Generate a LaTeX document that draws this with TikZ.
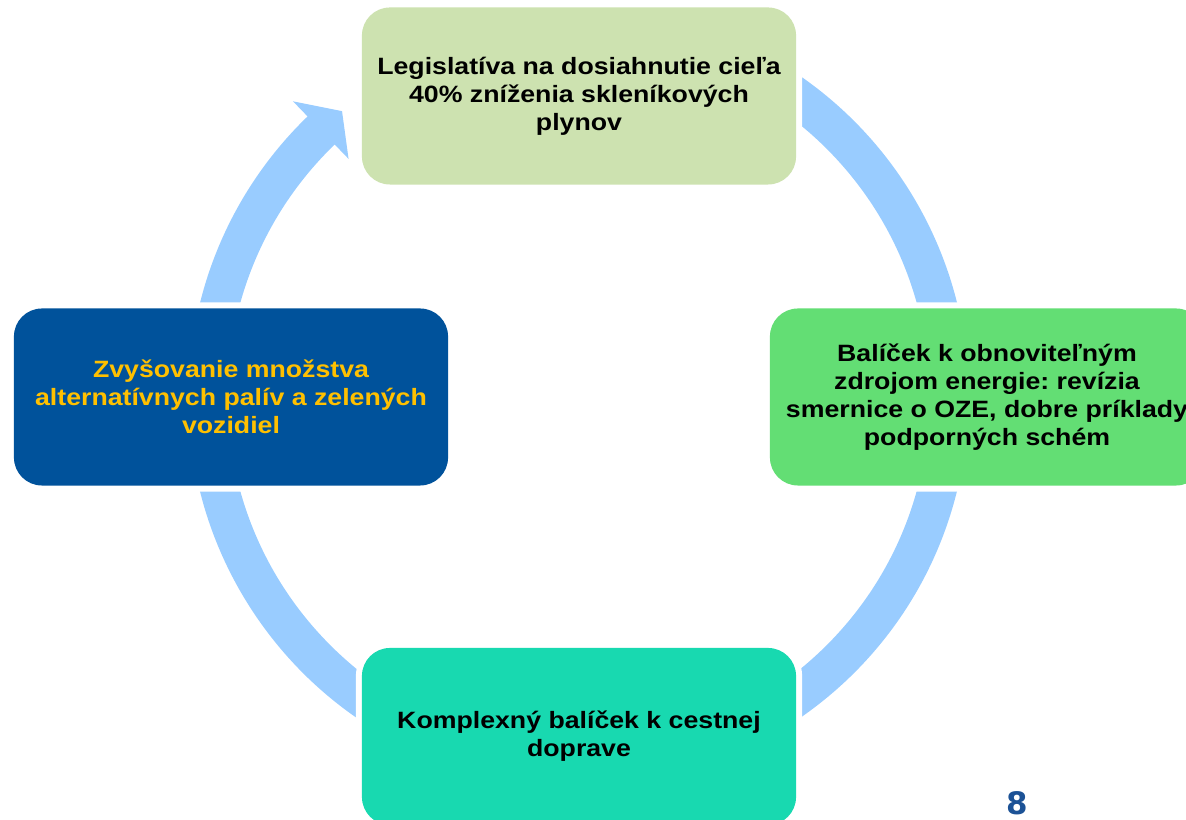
\documentclass[tikz,border=0pt]{standalone}
\usepackage{fontspec}
\setmainfont{Liberation Sans}[FakeStretch=1.13]
\newfontfamily\numfont{DejaVu Sans}
\usetikzlibrary{positioning}
\frenchspacing

\definecolor{ringblue}{RGB}{153,204,255}
\definecolor{legisgreen}{RGB}{205,226,176}
\definecolor{ozegreen}{RGB}{99,222,116}
\definecolor{cestateal}{RGB}{24,217,176}
\definecolor{euroblue}{RGB}{0,82,155}
\definecolor{euroyellow}{RGB}{255,192,0}
\definecolor{pagenum}{RGB}{28,82,150}

\tikzset{
  box/.style={rectangle, rounded corners=0.7cm, minimum width=10.85cm, minimum height=4.425cm,
    inner sep=0pt, align=center, font=\fontsize{16.8}{19.9}\selectfont\bfseries,
    preaction={draw=white, line width=8.6pt}},
}

\begin{document}
\begin{tikzpicture}[x=0.025cm, y=0.025cm]
  \useasboundingbox (0,0) rectangle (1186,820);
  \clip (0,0) rectangle (1186,820);

  % Set the radii of the ring
  \def\outer{390}
  \def\inner{351}

  % centre of the cycle
  \coordinate (c) at (578.5,423);

  % Draw the ring with its head
  \fill[ringblue, shift={(c)}] (80:\outer) arc[start angle=80, end angle=-226, radius=\outer]
    -- (134:411) -- (129.6:371) -- (134:331)
    -- (-226:\inner) arc[start angle=-226, end angle=80, radius=\inner] -- cycle;

  % the four steps
  \node[box, fill=legisgreen] (legis) at (579,724) {Legislatíva na dosiahnutie cieľa\\40\% zníženia skleníkových\\plynov};
  \node[box, fill=ozegreen] (oze) at (987,423) {Balíček k obnoviteľným\\zdrojom energie: revízia\\smernice o OZE, dobre príklady\\podporných schém};
  \node[box, fill=cestateal] (cesta) at (579,83.5) {Komplexný balíček k cestnej\\doprave};
  \node[box, fill=euroblue, text=euroyellow] (paliva) at (231,423) {Zvyšovanie množstva\\alternatívnych palív a zelených\\vozidiel};

  \node[font=\numfont\bfseries\fontsize{22}{26}\selectfont, text=pagenum, inner sep=0pt] (strana) at (1017,17) {8};
\end{tikzpicture}
\end{document}
